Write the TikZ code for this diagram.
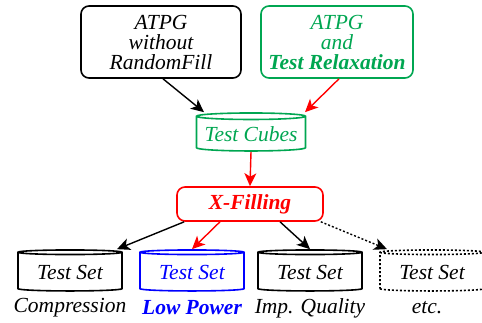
\documentclass[tikz,border=0pt]{standalone}
\usepackage{fontspec}
\setmainfont{Liberation Serif}
\usetikzlibrary{arrows.meta,positioning,shapes.geometric}
\definecolor{relaxGreen}{RGB}{0,166,81}
\definecolor{fillRed}{RGB}{255,0,0}
\definecolor{powerBlue}{RGB}{0,0,255}

\begin{document}
\begin{tikzpicture}[x=1pt,y=-1pt,
    txt/.style={font=\fontsize{21.5pt}{20pt}\selectfont\itshape},
    boldtxt/.style={font=\fontsize{21.5pt}{20pt}\selectfont\bfseries\itshape},
    flowbox/.style={draw, rounded corners=8pt, line width=1.6pt, align=center, inner sep=2pt, txt},
    cyl/.style={draw, cylinder, shape border rotate=90, aspect=0.07, line width=1.6pt,
                minimum width=104pt, minimum height=41pt, inner sep=0pt, txt},
    flow/.style={-{Stealth[length=13pt,width=12pt,inset=3.5pt]}, line width=1.4pt}]
    \useasboundingbox (0,0) rectangle (482,322);
    \clip (0,0) rectangle (482,322);

    % sources
    \node[flowbox, minimum width=160pt, minimum height=72pt] (plain) at (161,42) {ATPG\\without\\RandomFill};
    \node[flowbox, draw=relaxGreen, text=relaxGreen, minimum width=152pt, minimum height=72pt] (relax) at (337,42)
        {ATPG\\and\\\textbf{Test Relaxation}};

    % cubes and filling
    \node[cyl, draw=relaxGreen, text=relaxGreen, minimum width=109pt, minimum height=38pt] (cubes) at (251,134) {Test Cubes};
    \node[flowbox, draw=fillRed, text=fillRed, minimum width=146pt, minimum height=34pt, boldtxt] (xfill) at (250,204) {X-Filling};

    % test sets
    \node[cyl] (comp) at (70,272) {Test Set};
    \node[cyl, draw=powerBlue, text=powerBlue] (power) at (192,272) {Test Set};
    \node[cyl] (quality) at (310,272) {Test Set};
    \node[cyl, dash pattern=on 2pt off 2pt] (other) at (432,272) {Test Set};

    \node[txt] at (comp.south |- 0,308) {Compression};
    \node[boldtxt, text=powerBlue] at (power.south |- 0,308) {Low Power};
    \node[txt] at (quality.south |- 0,308) {Imp. Quality};
    \node[txt] at ([xshift=-5pt]other.south |- 0,308) {etc.};

    % arrows
    \draw[flow] ([xshift=2pt]plain.south) -- ([xshift=-47pt]cubes.north);
    \draw[flow, fillRed] ([xshift=2pt]relax.south) -- ([xshift=54pt]cubes.north);
    \draw[flow, fillRed] (cubes.south) -- (xfill.north);
    \draw[flow] ([xshift=8pt]xfill.south west) -- ([xshift=47pt]comp.north);
    \draw[flow, fillRed] ([xshift=-30pt]xfill.south) -- (power.north);
    \draw[flow] ([xshift=30pt]xfill.south) -- (quality.north);
    \draw[flow, dash pattern=on 2pt off 2pt] ([xshift=-3pt]xfill.south east) -- ([xshift=-45pt]other.north);
\end{tikzpicture}
\end{document}
